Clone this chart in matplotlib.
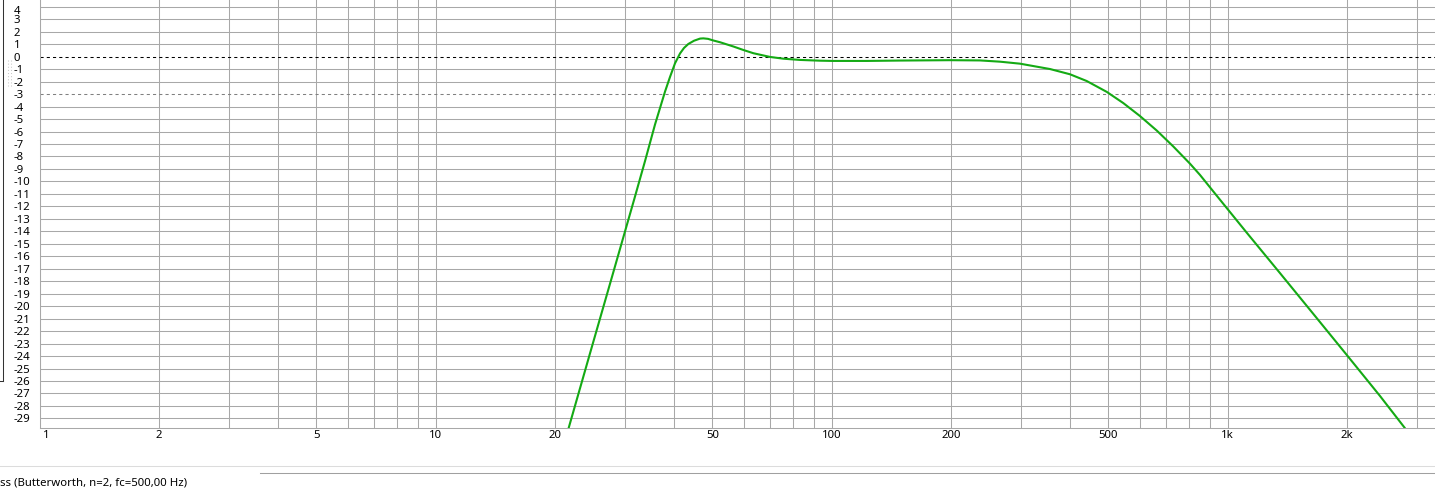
import matplotlib.pyplot as plt
from matplotlib.lines import Line2D
from matplotlib.transforms import ScaledTranslation

plt.rcParams['font.family'] = ['Noto Sans', 'DejaVu Sans']
plt.rcParams['axes.unicode_minus'] = False

# response (Hz, dB)
freq = [21.62, 24.52, 27.88, 31.68, 33.78, 35.80, 37.93, 39.05, 40.21, 41.40,
        42.37, 43.45, 44.91, 46.50, 47.39, 48.71, 50.23, 52.23, 56.42, 59.80,
        63.39, 69.86, 75.47, 83.18, 93.4, 100.8, 122.6, 148.7, 198.9, 236.9,
        266.1, 298.9, 355.9, 399.7, 440.5, 494.9, 545.0, 600.5, 661.9, 728.9,
        803.2, 851.2, 952.4, 1117, 1356, 1645, 1998, 2424, 2804]
gain = [-29.87, -23.80, -17.64, -11.49, -8.36, -5.43, -2.81, -1.63, -0.53, 0.26,
        0.70, 1.02, 1.28, 1.45, 1.47, 1.43, 1.30, 1.16, 0.82, 0.54,
        0.28, -0.02, -0.16, -0.26, -0.32, -0.34, -0.34, -0.31, -0.28, -0.30,
        -0.40, -0.56, -0.99, -1.41, -1.95, -2.82, -3.72, -4.76, -5.92, -7.20,
        -8.58, -9.48, -11.40, -14.11, -17.36, -20.62, -23.91, -27.20, -29.79]

db_ticks = list(range(-29, 5))
freq_ticks = [1, 2, 5, 10, 20, 50, 100, 200, 500, 1000, 2000]
freq_labels = ['1', '2', '5', '10', '20', '50', '100', '200', '500', '1k', '2k']
grid_freqs = [m * 10 ** e for e in range(4) for m in range(1, 10) if m * 10 ** e <= 3000]
ref_level = 0
cut_level = -3
caption = 'ss (Butterworth, n=2, fc=500,00 Hz)'

W, H = 1435, 493
fig = plt.figure(figsize=(W / 100, H / 100), dpi=100)
ax = fig.add_axes([39.7 / W, 1 - 428 / H, 1 - 39.7 / W, 428 / H])
ax.set_xscale('log')
ax.set_xlim(1, 3338)
ax.set_ylim(-29.77, 4.545)

grid = '#a8a8a8'
for f in grid_freqs:
    ax.axvline(f, color=grid, lw=0.75, zorder=1)
for d in db_ticks:
    if d in (ref_level, cut_level):
        continue
    ax.axhline(d, color=grid, lw=0.75, zorder=1)
ax.axhline(ref_level, color='black', lw=0.75, ls=(0, (3, 3)), zorder=2)
ax.axhline(cut_level, color='#808080', lw=0.75, ls=(0, (3, 3)), zorder=2)

ax.plot(freq, gain, color='#14aa14', lw=1.5, zorder=3,
        solid_joinstyle='round', solid_capstyle='round')

for name, s in ax.spines.items():
    s.set_visible(name in ('bottom', 'left'))
    s.set_color(grid)
    s.set_linewidth(0.75)

ax.set_xticks(freq_ticks, freq_labels)
ax.set_xticks([], minor=True)
ax.set_yticks(db_ticks, [str(d) for d in db_ticks])
ax.tick_params(length=0, labelsize=8.2, colors='black')
ax.tick_params(axis='y', pad=18.9)
ax.tick_params(axis='x', pad=1.5)
for lbl in ax.get_yticklabels():
    lbl.set_ha('left')

# edge labels pushed inside the window
top_lbl = ax.yaxis.get_major_ticks()[-1].label1
top_lbl.set_transform(top_lbl.get_transform() + ScaledTranslation(0, -0.03, fig.dpi_scale_trans))
first_lbl = ax.xaxis.get_major_ticks()[0].label1
first_lbl.set_transform(first_lbl.get_transform() + ScaledTranslation(0.07, 0, fig.dpi_scale_trans))

# window chrome
fig.add_artist(Line2D([3 / W, 3 / W], [1, 1 - 381 / H], transform=fig.transFigure, color='#333333', lw=0.75))
fig.add_artist(Line2D([0, 3 / W], [1 - 381 / H, 1 - 381 / H], transform=fig.transFigure, color='#333333', lw=0.75))
for gx in (7.5, 10.5):
    fig.add_artist(Line2D([gx / W, gx / W], [1 - 60 / H, 1 - 88 / H], transform=fig.transFigure,
                          color='#c8c8c8', lw=0.75, ls=(0, (1, 2))))
fig.add_artist(Line2D([0, 1], [1 - 466 / H, 1 - 466 / H], transform=fig.transFigure, color='#dcdcdc', lw=0.75))
fig.add_artist(Line2D([260 / W, 1], [1 - 473 / H, 1 - 473 / H], transform=fig.transFigure, color='#a0a0a0', lw=0.75))
fig.text(0, 1 - 483 / H, caption, ha='left', va='center', fontsize=8.2)

fig.savefig('out.png', dpi=100)
